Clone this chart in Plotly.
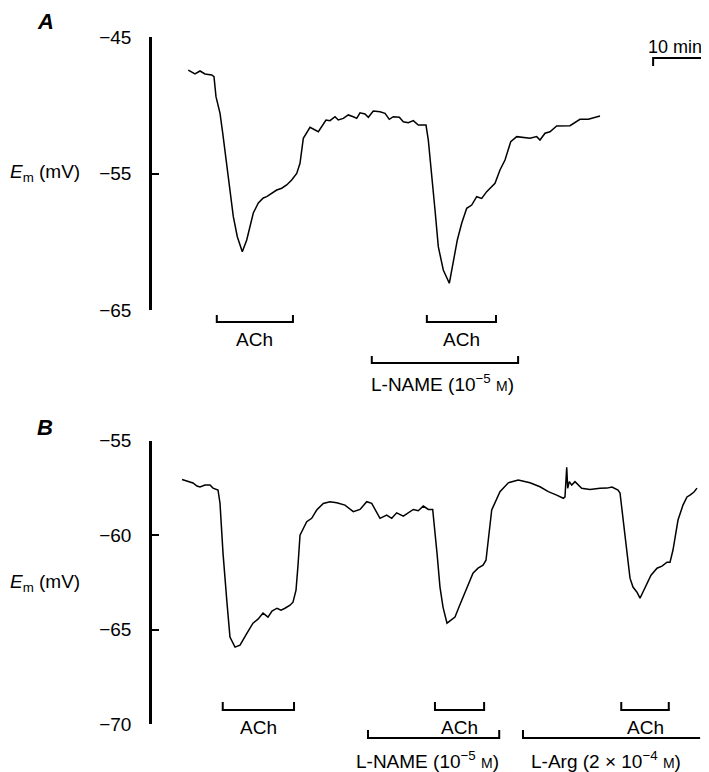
import plotly.graph_objects as go

W, H = 709, 772

# ---------------- data (time in min, Em in mV) ----------------
a_time = [6.72, 7.35, 7.96, 8.89, 9.81, 11.06, 11.48, 11.85, 12.59, 13.09, 13.83, 14.44,
          15.06, 15.80, 16.72, 17.54, 18.15, 18.76, 19.69, 20.61, 21.24, 22.17, 23.09,
          24.02, 24.94, 25.87, 26.80, 27.41, 28.02, 29.26, 30.80, 32.22, 32.96, 33.89,
          34.50, 35.43, 36.35, 37.28, 37.91, 38.52, 39.44, 40.06, 40.98, 42.22, 43.15,
          43.94, 44.69, 45.80, 46.54, 47.46, 48.39, 49.31, 50.74, 51.17, 51.80, 52.41,
          53.02, 53.94, 55.06, 55.80, 56.54, 57.35, 58.28, 59.20, 60.13, 61.06, 61.98,
          63.52, 64.44, 65.37, 66.43, 67.54, 70.00, 71.24, 71.85, 72.78, 73.70, 74.94,
          77.41, 79.26, 80.80, 82.96]
a_em = [-47.42, -47.54, -47.71, -47.49, -47.71, -47.78, -47.91, -49.37, -50.57, -52.03,
        -54.50, -56.43, -58.16, -59.63, -60.73, -59.87, -58.90, -57.89, -57.16, -56.79,
        -56.70, -56.43, -56.21, -56.08, -55.84, -55.48, -54.99, -54.25, -52.42, -51.62,
        -51.94, -51.08, -51.13, -50.84, -51.08, -50.96, -50.71, -50.84, -50.96, -50.55,
        -50.64, -50.88, -50.42, -50.47, -50.59, -51.03, -50.84, -50.88, -51.21, -51.28,
        -51.13, -51.45, -51.45, -52.55, -54.99, -57.67, -60.36, -62.07, -63.04, -61.58,
        -59.87, -58.65, -57.55, -57.31, -56.70, -56.82, -56.33, -55.72, -54.74, -54.01,
        -52.67, -52.30, -52.42, -52.30, -52.55, -52.05, -51.94, -51.52, -51.50, -51.03,
        -51.03, -50.79]

b_time = [5.56, 6.48, 7.59, 8.33, 8.89, 9.81, 10.74, 11.30, 12.22, 12.59, 13.15, 13.89,
          14.44, 15.37, 16.30, 17.59, 18.70, 19.63, 20.56, 21.48, 22.22, 23.15, 23.89,
          24.63, 25.56, 26.11, 26.67, 27.04, 27.41, 28.65, 29.57, 30.50, 31.72, 32.96,
          34.20, 35.74, 37.28, 38.52, 39.76, 40.69, 42.22, 43.46, 44.39, 45.31, 46.54,
          48.39, 49.31, 50.24, 51.17, 51.98, 52.41, 52.78, 53.33, 53.89, 54.63, 55.37,
          56.11, 56.85, 57.59, 58.52, 59.44, 60.37, 61.30, 61.85, 62.28, 62.91, 64.44,
          65.98, 67.83, 70.00, 71.85, 73.39, 74.94, 76.17, 76.48, 76.80, 76.98, 77.28,
          77.72, 78.33, 79.57, 81.11, 82.96, 84.26, 85.19, 86.30, 86.67, 87.22, 87.96,
          88.52, 89.07, 89.81, 90.37, 90.93, 91.67, 92.41, 93.52, 94.44, 95.37, 95.93,
          96.48, 97.04, 97.41, 98.33, 99.07, 99.63, 100.37, 100.93]
b_em = [-57.05, -57.14, -57.24, -57.40, -57.45, -57.35, -57.35, -57.51, -57.61, -58.30,
        -60.95, -63.60, -65.40, -65.93, -65.83, -65.19, -64.66, -64.45, -64.13, -64.34,
        -64.02, -63.87, -63.97, -63.87, -63.71, -63.55, -62.91, -61.59, -60.00, -59.29,
        -59.11, -58.67, -58.32, -58.23, -58.29, -58.41, -58.76, -58.64, -58.23, -58.32,
        -59.11, -58.94, -59.11, -58.82, -58.99, -58.64, -58.71, -58.46, -58.64, -58.64,
        -59.73, -60.95, -62.75, -63.81, -64.66, -64.50, -64.34, -63.81, -63.28, -62.64,
        -62.01, -61.75, -61.59, -61.33, -60.26, -58.67, -57.70, -57.23, -57.08, -57.23,
        -57.44, -57.70, -57.88, -58.05, -57.97, -56.41, -57.52, -57.17, -57.35, -57.17,
        -57.52, -57.58, -57.52, -57.51, -57.45, -57.61, -57.77, -59.20, -61.16, -62.28,
        -62.75, -63.02, -63.34, -63.02, -62.54, -62.12, -61.75, -61.64, -61.43, -61.43,
        -60.79, -59.73, -59.20, -58.41, -57.98, -57.88, -57.72, -57.51]

a_yticks = [-45, -55, -65]
b_yticks = [-55, -60, -65, -70]

# application periods (min)
a_ach_on, a_ach_off = [12.0, 50.9], [26.1, 63.7]
a_drug_on, a_drug_off = [40.7], [67.8]
a_drug_labels = ["L-NAME (10<sup>−5</sup> <span style='font-size:14px'>M</span>)"]
a_drug_closed = [True]

b_ach_on, b_ach_off = [13.1, 52.4, 86.9], [26.3, 61.5, 95.7]
b_drug_on, b_drug_off = [40.0, 68.7], [64.3, 101.5]
b_drug_labels = ["L-NAME (10<sup>−5</sup> <span style='font-size:14px'>M</span>)",
                 "L-Arg (2 × 10<sup>−4</sup> <span style='font-size:14px'>M</span>)"]
b_drug_closed = [True, False]

scale_start, scale_len = 92.8, 10
scale_label = "10 min"

# ---------------- layout helpers ----------------
OX, OY = 8, 8   # page offset of the figure inside the browser window


def fx(p):
    return (p - OX) / W


def fy(p):
    return (H - (p - OY)) / H


X_LEFT = 152
PX_PER_MIN = 5.4
XR = [0, (W - (X_LEFT - OX)) / PX_PER_MIN]
FONT = "Liberation Sans, Arial, Helvetica, sans-serif"

fig = go.Figure()
fig.add_trace(go.Scatter(x=a_time, y=a_em, mode="lines", xaxis="x", yaxis="y",
                         line=dict(color="black", width=1.5), showlegend=False))
fig.add_trace(go.Scatter(x=b_time, y=b_em, mode="lines", xaxis="x2", yaxis="y2",
                         line=dict(color="black", width=1.5), showlegend=False))

yax = dict(showline=True, linecolor="black", linewidth=2.5, ticks="inside", ticklen=7,
           tickwidth=2, tickcolor="black", showgrid=False, zeroline=False,
           automargin=False,
           tickfont=dict(size=19, color="black", family=FONT), ticklabelstandoff=14)

fig.update_layout(
    width=W, height=H, margin=dict(l=0, r=0, t=0, b=0, pad=0),
    paper_bgcolor="white", plot_bgcolor="white", showlegend=False,
    font=dict(family=FONT, size=19, color="black"),
    xaxis=dict(domain=[fx(X_LEFT), 1], range=XR, visible=False, anchor="y",
               automargin=False),
    yaxis=dict(domain=[fy(310), fy(37)], range=[-65, -45], tickvals=a_yticks,
               anchor="x", **yax),
    xaxis2=dict(domain=[fx(X_LEFT), 1], range=XR, visible=False, anchor="y2",
                automargin=False),
    yaxis2=dict(domain=[fy(724), fy(440.7)], range=[-70, -55], tickvals=b_yticks,
                anchor="x2", **yax),
)

shapes, annos = [], []


def bracket(xref, x0, x1, yline, ytop, closed=True):
    yl, yt = fy(yline), fy(ytop)
    if closed:
        path = f"M {x0},{yt} L {x0},{yl} L {x1},{yl} L {x1},{yt}"
    else:
        path = f"M {x0},{yt} L {x0},{yl} L {x1},{yl}"
    shapes.append(dict(type="path", path=path, xref=xref, yref="paper",
                       line=dict(color="black", width=2)))


def label(xref, x, ypix, text, xshift=0, size=19, xanchor="center"):
    annos.append(dict(x=x, y=fy(ypix), xref=xref, yref="paper", text=text,
                      showarrow=False, xanchor=xanchor, yanchor="middle",
                      xshift=xshift, font=dict(size=size, color="black", family=FONT)))


# panel A application bars
for s, e in zip(a_ach_on, a_ach_off):
    bracket("x", s, e, 322, 315)
    label("x", (s + e) / 2, 339, "ACh")
for s, e, t, c in zip(a_drug_on, a_drug_off, a_drug_labels, a_drug_closed):
    bracket("x", s, e, 363, 356, c)
    label("x", (s + e) / 2, 383, t, xshift=-2)

# panel B application bars
for s, e in zip(b_ach_on, b_ach_off):
    bracket("x2", s, e, 710, 702)
    label("x2", (s + e) / 2, 727, "ACh")
for s, e, t, c in zip(b_drug_on, b_drug_off, b_drug_labels, b_drug_closed):
    bracket("x2", s, e, 738, 730, c)
    label("x2", (s + e) / 2, 760, t, xshift=-6)

# time scale bar
bracket("x", scale_start, scale_start + scale_len, 58, 66)
label("x", scale_start + scale_len / 2, 47, scale_label, xshift=-5, size=18)

# panel letters and axis titles
for txt, yp in [("A", 22), ("B", 428)]:
    annos.append(dict(x=fx(45), y=fy(yp), xref="paper", yref="paper",
                      xanchor="center", yanchor="middle",
                      text=f"<b><i>{txt}</i></b>", showarrow=False,
                      font=dict(size=22, color="black", family=FONT)))
for yp in [173, 583]:
    annos.append(dict(x=fx(45), y=fy(yp), xref="paper", yref="paper",
                      xanchor="center", yanchor="middle",
                      text="<i>E</i><sub>m</sub> (mV)", showarrow=False,
                      font=dict(size=19, color="black", family=FONT)))

fig.update_layout(shapes=shapes, annotations=annos)
fig.write_html("out.html")
